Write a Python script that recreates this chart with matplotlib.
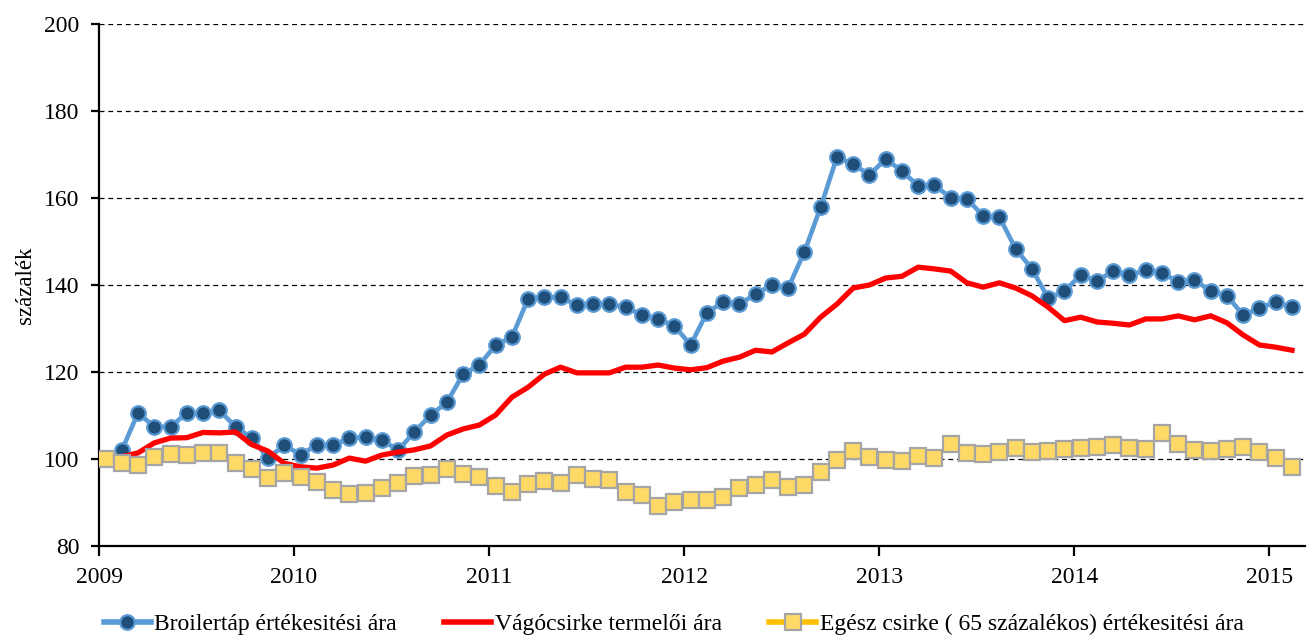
import numpy as np
import matplotlib.pyplot as plt

plt.rcParams['font.family'] = ['Liberation Serif', 'DejaVu Serif']

# monthly data, Jan 2009 - Feb 2015
years = ['2009', '2010', '2011', '2012', '2013', '2014', '2015']

broiler_tap = [100, 102, 110.6, 107.4, 107.4, 110.6, 110.6, 111.2, 107.4, 104.8,
               100.2, 103.2, 101, 103.2, 103.2, 104.8, 105, 104.4, 102, 106.2,
               110.1, 113, 119.5, 121.6, 126.2, 128, 136.8, 137.2, 137.2, 135.4,
               135.6, 135.6, 134.9, 133.1, 132.2, 130.6, 126.2, 133.6, 136.1, 135.6,
               137.9, 140, 139.3, 147.6, 157.9, 169.4, 167.8, 165.3, 169, 166.2,
               162.8, 163, 160, 159.8, 155.9, 155.6, 148.3, 143.7, 137, 138.6,
               142.3, 140.9, 143.2, 142.3, 143.4, 142.8, 140.7, 141.1, 138.6, 137.5,
               133.1, 134.7, 136.1, 134.9]

vagocsirke = [100, 100.5, 101.4, 103.7, 104.8, 104.9, 106.1, 106, 106.2, 103.3,
              101.8, 99, 98.2, 97.9, 98.6, 100.2, 99.5, 100.9, 101.6, 102.1,
              103, 105.5, 106.9, 107.8, 110.1, 114.2, 116.5, 119.5, 121.1, 119.8,
              119.8, 119.8, 121.1, 121.1, 121.6, 120.9, 120.5, 121, 122.5, 123.4,
              125, 124.6, 126.7, 128.7, 132.6, 135.6, 139.3, 140, 141.6, 142,
              144.1, 143.7, 143.2, 140.5, 139.5, 140.5, 139.3, 137.5, 134.9, 131.8,
              132.6, 131.5, 131.2, 130.8, 132.2, 132.2, 132.9, 132, 132.9, 131.3,
              128.5, 126.2, 125.7, 125]

egesz_csirke = [100, 99.1, 98.6, 100.4, 101.1, 100.9, 101.4, 101.4, 99.1, 97.7,
                95.6, 96.8, 95.9, 94.7, 92.9, 92, 92.2, 93.3, 94.5, 96.1,
                96.3, 97.7, 96.6, 95.9, 93.8, 92.4, 94.3, 94.9, 94.5, 96.3,
                95.4, 95.2, 92.4, 91.7, 89.2, 90.1, 90.6, 90.6, 91.3, 93.3,
                94, 95.2, 93.6, 94, 97, 99.8, 101.8, 100.5, 99.8, 99.5,
                100.7, 100.2, 103.4, 101.4, 101.1, 101.6, 102.6, 101.6, 101.8, 102.3,
                102.5, 102.8, 103.2, 102.5, 102.3, 106, 103.4, 102.1, 101.8, 102.3,
                102.8, 101.6, 100.2, 98.2]

x = np.arange(len(broiler_tap)) + 0.4

fig = plt.figure(figsize=(13.08, 6.37), dpi=100)
ax = fig.add_axes([0.0757, 0.1429, 0.922, 0.8194])

for yv in range(100, 201, 20):
    ax.axhline(yv, color='black', lw=0.9, ls=(0, (4, 3)), zorder=1)

ax.plot(x, broiler_tap, color='#5B9BD5', lw=3.3, marker='o', ms=10.5,
        mfc='#1F4E79', mec='#5B9BD5', mew=1.6, zorder=3,
        label='Broilertáp értékesitési ára')
ax.plot(x, vagocsirke, color='#FF0000', lw=3.8, zorder=4,
        label='Vágócsirke termelői ára')
ax.plot(x, egesz_csirke, color='#FFC000', lw=2, marker='s', ms=11,
        mfc='#FFD966', mec='#A5A5A5', mew=1.6, zorder=5,
        label='Egész csirke ( 65 százalékos) értékesitési ára')

ax.set_ylim(80, 200)
ax.set_yticks(range(80, 201, 20))
ax.set_xlim(0, 74.2)
ax.set_xticks(np.arange(0, 73, 12))
ax.set_xticklabels(years)

for s in ['top', 'right']:
    ax.spines[s].set_visible(False)
for s in ['left', 'bottom']:
    ax.spines[s].set_linewidth(1.6)
    ax.spines[s].set_color('black')

ax.tick_params(axis='y', labelsize=17, length=6, width=1.6, direction='out', pad=8)
ax.tick_params(axis='x', labelsize=17, length=7, width=1.6, direction='out', pad=8)
ax.set_ylabel('százalék', fontsize=16.5, labelpad=6)

leg = fig.legend(loc='lower center', bbox_to_anchor=(0.515, -0.03), ncol=3,
                 frameon=False, fontsize=17, handlelength=2.0, columnspacing=2.0,
                 handletextpad=0.15)
# thicker handle lines like the original legend
for h in leg.legend_handles:
    h.set_linewidth(4)

fig.savefig('out.png', dpi=100)
